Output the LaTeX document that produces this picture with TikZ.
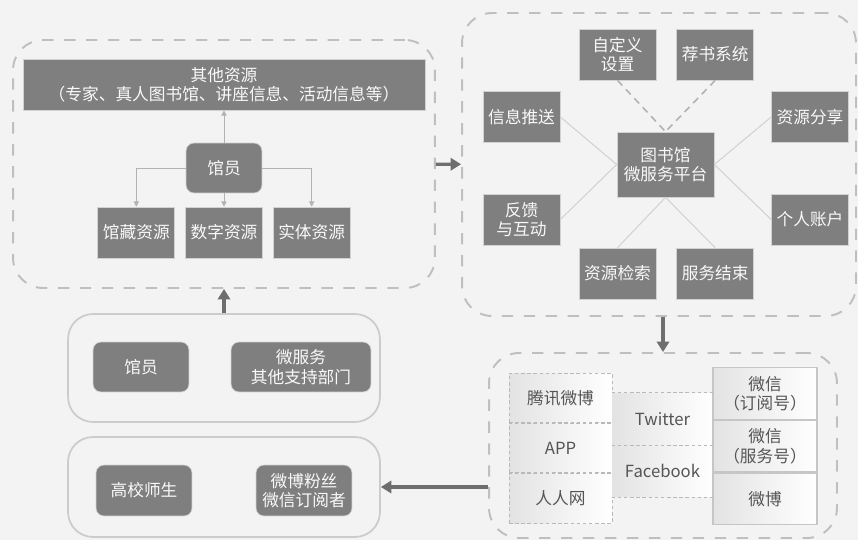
\documentclass[tikz,border=0pt]{standalone}
\usepackage{fontspec}
\setmainfont{Noto Sans CJK SC}
\usepackage{tikz}
\usetikzlibrary{positioning,arrows.meta}
\definecolor{bg}{HTML}{F3F3F3}
\definecolor{boxgray}{HTML}{7F7F7F}
\definecolor{txtgray}{HTML}{555555}
\definecolor{arrgray}{HTML}{6E6E6E}
\tikzset{
	flow/.style={x=0.02cm,y=-0.02cm,font=\fontsize{9.5}{11}\selectfont},
	group/.style={draw=gray!50,line width=1.1pt,dash pattern=on 6.5pt off 6pt,
		rounded corners=0.6cm,inner sep=0},
	panel/.style={draw=gray!40,line width=1pt,rounded corners=0.5cm,inner sep=0},
	block/.style={draw=gray!35,fill=boxgray,text=white!95!gray,align=center,
		inner sep=1pt,minimum width=1.54cm,minimum height=1.02cm},
	rblock/.style={block,rounded corners=0.16cm},
	cell/.style={left color=gray!22,right color=white,text=txtgray,align=center,
		inner sep=1pt},
	dcell/.style={cell,draw=gray!55,line width=0.5pt,dash pattern=on 2pt off 1.5pt},
	scell/.style={cell,draw=gray!45,line width=0.6pt},
	cdash/.style={draw=gray!55,line width=0.5pt,dash pattern=on 2pt off 1.5pt},
	big/.style={-{Triangle[length=6pt,width=7pt]},line width=1.8pt,draw=arrgray},
	small/.style={-{Triangle[length=3pt,width=3pt]},draw=gray!60,line width=0.5pt},
	spoke/.style={draw=gray!35,line width=0.6pt},
	dspoke/.style={draw=gray!60,line width=0.9pt,dash pattern=on 4pt off 3pt}
}

\begin{document}
\begin{tikzpicture}[flow]
	\fill[bg] (0,0) rectangle (858,540);
	\useasboundingbox (0,0) rectangle (858,540);
	
	% groups
	\node[group,minimum width=8.44cm,minimum height=4.96cm] (tl) at (224,164) {};
	\node[group,minimum width=7.88cm,minimum height=6.06cm] (tr) at (659,164.5) {};
	\node[group,minimum width=6.96cm,minimum height=3.70cm] (br) at (663,445.5) {};
	\node[panel,minimum width=6.24cm,minimum height=2.16cm] (staffs) at (224,368) {};
	\node[panel,minimum width=6.24cm,minimum height=2.00cm] (users) at (224,487) {};
	
	% library resources
	\node[block,minimum width=8.04cm] (other) at (224,84.5) {其他资源\\（专家、真人图书馆、讲座信息、活动信息等）};
	\node[rblock,minimum width=1.52cm,minimum height=1.0cm] (lib) at (224,168) {馆员};
	\node[block] (digi) at (224,232.5) {数字资源};
	\node[block,left=0.2cm of digi] (coll) {馆藏资源};
	\node[block,right=0.2cm of digi] (phys) {实体资源};
	
	\draw[small] (lib) -- (other);
	\draw[small] (lib.west) -| (coll);
	\draw[small] (lib) -- (digi);
	\draw[small] (lib.east) -| (phys);
	
	% platform
	\node[block,minimum width=1.94cm,minimum height=1.30cm] (hub) at (665.5,164.5) {图书馆\\微服务平台};
	\node[block] (custom) at (617.5,54.5) {自定义\\设置};
	\node[block,right=0.4cm of custom] (recom) {荐书系统};
	\node[block] (push) at (521.5,117) {信息推送};
	\node[block] (share) at (810,117) {资源分享};
	\node[block] (feedback) at (521.5,219.5) {反馈\\与互动};
	\node[block] (account) at (810,219.5) {个人账户};
	\node[block] (search) at (617.5,273.5) {资源检索};
	\node[block,right=0.4cm of search] (finish) {服务结束};
	
	\draw[dspoke] (custom.south) -- (hub.north);
	\draw[dspoke] (recom.south) -- (hub.north);
	\draw[spoke] (push.east) -- (hub.west);
	\draw[spoke] (feedback.east) -- (hub.west);
	\draw[spoke] (share.west) -- (hub.east);
	\draw[spoke] (account.west) -- (hub.east);
	\draw[spoke] (search.north) -- (hub.south);
	\draw[spoke] (finish.north) -- (hub.south);
	
	% channels
	\node[dcell,minimum width=2.06cm,minimum height=0.99cm] (tencent) at (560.5,397.8) {腾讯微博};
	\node[dcell,minimum width=2.06cm,minimum height=0.99cm,below=0pt of tencent] (app) {APP};
	\node[dcell,minimum width=2.06cm,minimum height=0.99cm,below=0pt of app] (renren) {人人网};
	\node[cell,minimum width=2.02cm,minimum height=1.03cm] (twitter) at (662.5,419) {Twitter};
	\node[cell,minimum width=2.02cm,minimum height=1.03cm,below=0pt of twitter] (facebook) {Facebook};
	\node[scell,minimum width=2.08cm,minimum height=1.03cm] (wxsub) at (765,393.7) {微信\\（订阅号）};
	\node[scell,minimum width=2.08cm,minimum height=1.03cm,below=0pt of wxsub] (wxsvc) {微信\\（服务号）};
	\node[scell,minimum width=2.08cm,minimum height=1.03cm,below=0pt of wxsvc] (weibo) {微博};
	\draw[cdash] (twitter.north west) -- (twitter.north east);
	\draw[cdash] (twitter.south west) -- (twitter.south east);
	\draw[cdash] (facebook.south west) -- (facebook.south east);
	
	% staff and users
	\node[rblock,minimum width=1.92cm,minimum height=1.0cm] (staffb) at (141,367) {馆员};
	\node[rblock,minimum width=2.80cm,minimum height=1.0cm] (depts) at (301,367) {微服务\\其他支持部门};
	\node[rblock,minimum width=1.92cm] (campus) at (144,490.5) {高校师生};
	\node[rblock,minimum width=1.92cm] (fans) at (304,490.5) {微博粉丝\\微信订阅者};
	
	% between groups
	\draw[big] (tl) -- (tr);
	\draw[big] (br.north |- tr.south) -- (br.north);
	\draw[big] (staffs) -- (tl);
	\draw[big] (br.west |- users.east) -- (users.east);
	%\draw[big] (users) -- (staffs);
\end{tikzpicture}
\end{document}
